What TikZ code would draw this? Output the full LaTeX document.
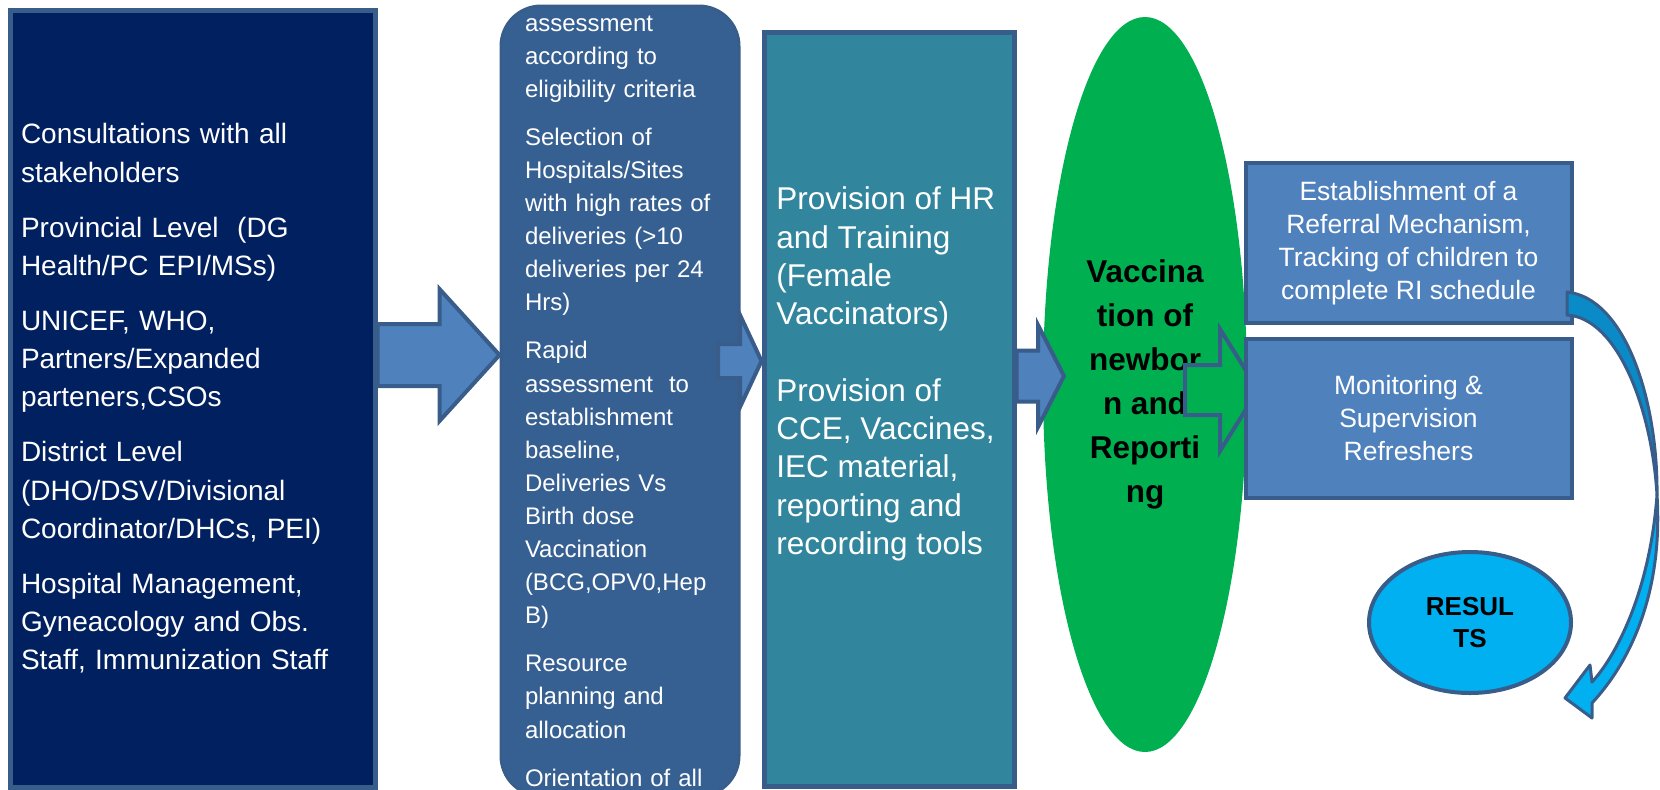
\documentclass[tikz,border=0pt]{standalone}
\usepackage{fontspec}
\setmainfont{Liberation Sans}
\usepackage{tikz}
\usetikzlibrary{arrows.meta,positioning,calc,shapes.geometric}
\definecolor{deepnavy}{HTML}{002060}
\definecolor{steel}{HTML}{385D8A}
\definecolor{slateblue}{HTML}{376092}
\definecolor{seablue}{HTML}{31859C}
\definecolor{leafgreen}{HTML}{00B050}
\definecolor{midblue}{HTML}{4F81BD}
\definecolor{skyblue}{HTML}{00B0F0}
\definecolor{oceanblue}{HTML}{0A8AC6}
\newcommand{\blockarrow}[6][]{%
  \path[barrow,#1] let \p1=(#2), \p2=(#3) in
    (\x1,\y2+#4) -- (\x2-#6,\y2+#4) -- (\x2-#6,\y2+#5) -- (\x2,\y2)
    -- (\x2-#6,\y2-#5) -- (\x2-#6,\y2-#4) -- (\x1,\y2-#4) -- cycle;}

\begin{document}
\begin{tikzpicture}[x=0.5pt,y=-0.5pt,
 box/.style={draw=steel,line width=2.5pt,inner sep=0pt,text=white},
 small/.style={draw=steel,line width=2pt,fill=midblue,text=white,inner sep=0pt,minimum width=163pt,align=center,font=\fontsize{13.25}{16.5}\selectfont},
 barrow/.style={draw=steel,line width=2pt,fill=midblue},
 ribbon/.style={draw=steel,line width=1.5pt,line join=round}]
\useasboundingbox (0,0) rectangle (1660,789);
\node[box,fill=deepnavy,minimum width=182.5pt,minimum height=388.5pt,text width=171.5pt,align=left,font=\fontsize{14}{19.15}\selectfont] (consult) at (192.5,398.5) {Consultations with all\\stakeholders\\[8.3pt]Provincial Level\ \ (DG\\Health/PC EPI/MSs)\\[8.3pt]UNICEF, WHO,\\Partners/Expanded\\parteners,CSOs\\[8.3pt]District Level\\(DHO/DSV/Divisional\\Coordinator/DHCs, PEI)\\[8.3pt]Hospital Management,\\Gyneacology and Obs.\\Staff, Immunization Staff};
\node[box,line width=1.5pt,fill=slateblue,rounded corners=20pt,minimum width=119pt,minimum height=395pt,text width=95pt,align=left,font=\fontsize{12}{16.55}\selectfont] (sites) at (620,401) {assessment\\according to\\eligibility criteria\\[7.5pt]Selection of\\Hospitals/Sites\\with high rates of\\deliveries (>10\\deliveries per 24\\Hrs)\\[7.5pt]Rapid\\assessment\ \ to\\establishment\\baseline,\\Deliveries Vs\\Birth dose\\Vaccination\\(BCG,OPV0,Hep\\B)\\[7.5pt]Resource\\planning and\\allocation\\[7.5pt]Orientation of all};
\node[box,fill=seablue,minimum width=125pt,minimum height=377.25pt] (supply) at (889,409.25) {};
\node[anchor=west,align=left,text=white,inner sep=0pt,font=\fontsize{15.75}{19.15}\selectfont] (supplytext) at ([xshift=7.25pt,yshift=17.6pt]supply.west) {Provision of HR\\and Training\\(Female\\Vaccinators)\\[19.15pt]Provision of\\CCE, Vaccines,\\IEC material,\\reporting and\\recording tools};
\node[ellipse,fill=leafgreen,minimum width=102pt,minimum height=367.5pt,inner sep=0pt,align=center,font=\bfseries\fontsize{15.75}{22}\selectfont] (vacc) at (1145,384.5) {Vaccina\\tion of\\newbor\\n and\\Reporti\\ng};
\coordinate (lvlA) at (0,355);
\coordinate (a2) at (718,361);
\coordinate (a3) at (1064,376);
\coordinate (a4s) at (1185,390);
\coordinate (a4t) at (1258,390);
\blockarrow{consult.east |- lvlA}{sites.west |- lvlA}{15.5pt}{33pt}{30pt}
\blockarrow{a2}{supply.west |- a2}{8.5pt}{23pt}{10.75pt}
\blockarrow{supply.east |- a3}{a3}{12.75pt}{25.5pt}{13pt}
\node[small,minimum height=79.75pt] (referral) at (1408.5,243) {Establishment of a\\Referral Mechanism,\\Tracking of children to\\complete RI schedule};
\blockarrow[fill=leafgreen]{a4s}{a4t}{12.5pt}{30.5pt}{19pt}
\node[small,minimum height=79.5pt,below=6pt of referral] (monitor) {Monitoring \&\\Supervision\\Refreshers};
\node[ellipse,draw=steel,line width=2pt,fill=skyblue,minimum width=101pt,minimum height=70.5pt,inner sep=0pt,align=center,font=\bfseries\fontsize{13}{16}\selectfont] (results) at (1470,622.5) {RESUL\\TS};
\filldraw[ribbon,fill=oceanblue] (1567,292) .. controls (1625,298) and (1658,400) .. (1657,495)
 .. controls (1652,410) and (1618,318) .. (1567,315) -- cycle;
\filldraw[ribbon,fill=skyblue] (1657,495) .. controls (1663,590) and (1632,660) .. (1592,703)
 -- (1592,718) -- (1565,698) -- (1590,665) -- (1592,682)
 .. controls (1617,655) and (1650,590) .. (1657,495) -- cycle;
\end{tikzpicture}
\end{document}
